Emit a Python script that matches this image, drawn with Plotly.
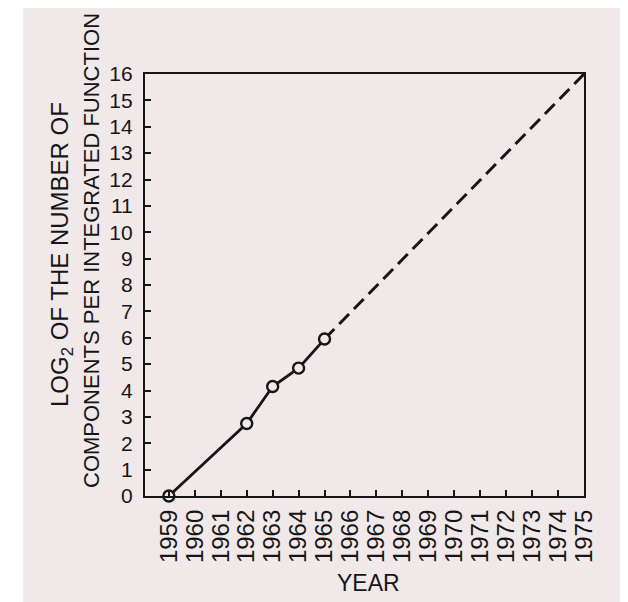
import plotly.graph_objects as go

# Data
years_measured = [1959, 1962, 1963, 1964, 1965]
log2_components = [0, 2.75, 4.15, 4.85, 5.95]
years_projected = [1965, 1975]
log2_projected = [5.95, 16]
x_ticks = list(range(1959, 1976))
y_ticks = list(range(0, 17))

BG = "#f1e8ea"
INK = "#161616"
FONT = "Liberation Sans, Arial, sans-serif"

# page body has an 8px margin; figure is sized/offset to compensate
L, T, R, B = 137, 66, 44, 106
W, H = 620, 594
PW, PH = W - L - R, H - T - B


def px(x):
    return (x - 8 - L) / PW


def py(y):
    return (H - B - (y - 8)) / PH


fig = go.Figure()
fig.add_trace(go.Scatter(
    x=years_projected, y=log2_projected, mode="lines",
    line=dict(color=INK, width=3, dash="14px,7px"), hoverinfo="skip"))
fig.add_trace(go.Scatter(
    x=years_measured, y=log2_components, mode="lines+markers",
    line=dict(color=INK, width=2.8),
    marker=dict(symbol="circle", size=11, color=BG, line=dict(color=INK, width=2.4)),
    cliponaxis=False))

fig.update_layout(
    width=W, height=H,
    margin=dict(l=L, r=R, t=T, b=B),
    paper_bgcolor="white", plot_bgcolor=BG,
    showlegend=False,
    font=dict(family=FONT, color=INK),
    shapes=[dict(type="rect", xref="paper", yref="paper",
                 x0=px(23), x1=px(624), y0=py(610), y1=py(4),
                 fillcolor=BG, line=dict(width=0), layer="below")],
    annotations=[
        dict(text="LOG<sub>2</sub> OF THE NUMBER OF", textangle=-90,
             xref="paper", yref="paper", x=px(61), y=py(255),
             xanchor="center", yanchor="middle",
             showarrow=False, font=dict(size=24, family=FONT, color=INK)),
        dict(text="COMPONENTS PER INTEGRATED FUNCTION", textangle=-90,
             xref="paper", yref="paper", x=px(92), y=py(251),
             xanchor="center", yanchor="middle",
             showarrow=False, font=dict(size=22, family=FONT, color=INK)),
        dict(text="YEAR", xref="paper", yref="paper", x=px(368), y=py(583),
             xanchor="center", yanchor="middle",
             showarrow=False, font=dict(size=23, family=FONT, color=INK)),
    ],
)
fig.update_xaxes(
    range=[1958.08, 1975], tickvals=x_ticks, ticktext=[str(v) for v in x_ticks],
    tickangle=-90, ticks="inside", ticklen=6, tickwidth=1.5, tickcolor=INK,
    showline=True, linewidth=2.2, linecolor=INK, mirror=True,
    showgrid=False, zeroline=False,
    tickfont=dict(size=24, family=FONT, color=INK), ticklabelstandoff=2)
fig.update_yaxes(
    range=[0, 16], tickvals=y_ticks, ticks="inside", ticklen=6, tickwidth=1.5,
    tickcolor=INK, showline=True, linewidth=2.2, linecolor=INK, mirror=True,
    showgrid=False, zeroline=False,
    tickfont=dict(size=21, family=FONT, color=INK), ticklabelstandoff=6)

fig.write_html("out.html")
